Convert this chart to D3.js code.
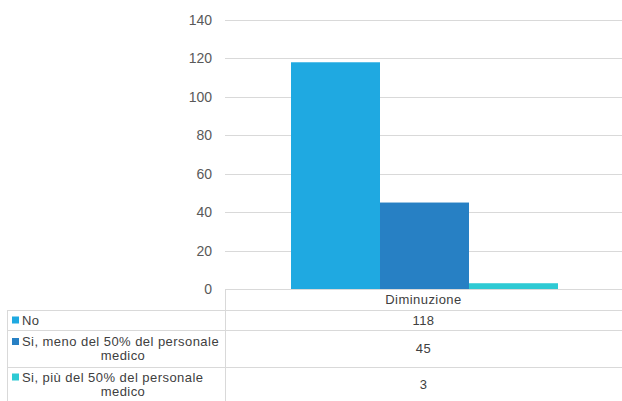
<!DOCTYPE html>
<html><head><meta charset="utf-8">
<script src="https://cdn.jsdelivr.net/npm/d3@7"></script>
<style>body{margin:0;background:#fff;} svg{display:block;font-family:"Liberation Sans",Arial,sans-serif;}</style>
</head><body>
<svg id="c" width="622" height="401"></svg>
<script>
const categories = ["Diminuzione"];
const seriesNames = ["No", "Si, meno del 50% del personale medico", "Si, più del 50% del personale medico"];
const seriesLines = [["No"], ["Si, meno del 50% del personale", "medico"], ["Si, più del 50% del personale", "medico"]];
const seriesValues = [118, 45, 3];
const seriesColors = ["#1FA9E1", "#2780C4", "#2ECAD4"];
const yTicks = [0, 20, 40, 60, 80, 100, 120, 140];

const svg = d3.select("#c");
const plotL = 225, plotR = 622, plotT = 20, plotB = 289;
const y = d3.scaleLinear().domain([0, 140]).range([plotB, plotT]);
const x0 = d3.scaleBand().domain(categories).range([plotL, plotR]).paddingInner(0).paddingOuter(0);
const x1 = d3.scaleBand().domain(seriesNames).range([291 - plotL, 558 - plotL]);

// gridlines
svg.append("g").selectAll("line").data(yTicks.filter(d => d > 0)).join("line")
  .attr("x1", plotL).attr("x2", plotR).attr("y1", d => Math.round(y(d)) + 0.5).attr("y2", d => Math.round(y(d)) + 0.5)
  .attr("stroke", "#d9d9d9").attr("stroke-width", 1);

// y axis labels
const yAxis = d3.axisLeft(y).tickValues(yTicks).tickSize(0).tickPadding(0);
const ga = svg.append("g").attr("transform", `translate(212,0)`).call(yAxis);
ga.select(".domain").remove();
ga.selectAll("text").attr("fill", "#595959").attr("font-size", 14).attr("font-family", "Liberation Sans, Arial, sans-serif");

// bars
const cat = svg.append("g").selectAll("g").data(categories).join("g").attr("transform", d => `translate(${x0(d)},0)`);
cat.selectAll("rect").data(seriesNames.map((n, i) => ({n, v: seriesValues[i], c: seriesColors[i]}))).join("rect")
  .attr("x", d => x1(d.n)).attr("width", x1.bandwidth())
  .attr("y", d => y(d.v)).attr("height", d => y(0) - y(d.v)).attr("fill", d => d.c);

// data table
const tbl = svg.append("g").attr("stroke", "#d9d9d9").attr("stroke-width", 1).attr("fill", "none");
const rowY = [289, 310, 330, 367, 401];
const colX = [7, 225, 622];
tbl.append("line").attr("x1", colX[1]).attr("x2", colX[2]).attr("y1", rowY[0] + 0.5).attr("y2", rowY[0] + 0.5);
[1, 2, 3].forEach(i => tbl.append("line").attr("x1", colX[0]).attr("x2", colX[2]).attr("y1", rowY[i] + 0.5).attr("y2", rowY[i] + 0.5));
tbl.append("line").attr("x1", colX[1] + 0.5).attr("x2", colX[1] + 0.5).attr("y1", rowY[0]).attr("y2", 401);
tbl.append("line").attr("x1", colX[0] + 0.5).attr("x2", colX[0] + 0.5).attr("y1", rowY[1]).attr("y2", 401);

const txt = svg.append("g").attr("fill", "#404040").attr("font-size", 13).attr("letter-spacing", "0.45px");
const midCol = (colX[1] + colX[2]) / 2;
categories.forEach(c => txt.append("text").attr("x", midCol).attr("y", (rowY[0] + rowY[1]) / 2 + 4.5).attr("text-anchor", "middle").text(c));

seriesNames.forEach((n, i) => {
  const top = rowY[i + 1], bot = rowY[i + 2];
  const lines = seriesLines[i];
  const lh = 14;
  const startY = (top + bot) / 2 - (lines.length - 1) * lh / 2 + 4.5;
  svg.append("rect").attr("x", 12).attr("y", startY - 8).attr("width", 7).attr("height", 7).attr("fill", seriesColors[i]);
  lines.forEach((l, j) => {
    if (j === 0) txt.append("text").attr("x", 22).attr("y", startY).text(l);
    else txt.append("text").attr("x", 123).attr("y", startY + j * lh).attr("text-anchor", "middle").text(l);
  });
  txt.append("text").attr("x", midCol).attr("y", (top + bot) / 2 + 4.5).attr("text-anchor", "middle").text(seriesValues[i]);
});
</script>
</body></html>
